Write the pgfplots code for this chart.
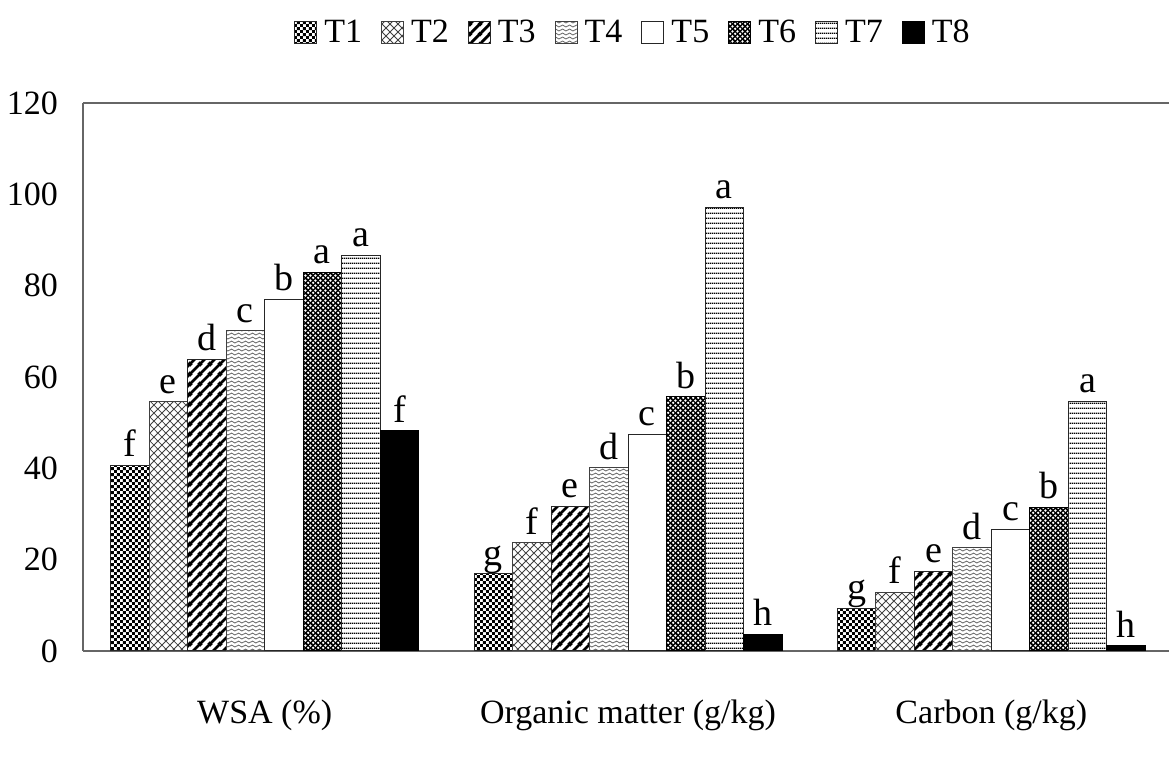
\documentclass[border=0pt]{standalone}
\usepackage{fontspec}
\setmainfont{Liberation Serif}
\usepackage{pgfplots}
\pgfplotsset{compat=1.18}
\usetikzlibrary{patterns,patterns.meta}

\tikzdeclarepattern{name=pchecker, type=uncolored, bottom left={(0pt,0pt)}, top right={(3.2pt,3.2pt)}, tile size={(3.2pt,3.2pt)},
  code={\fill (0pt,0pt) rectangle (1.6pt,1.6pt); \fill (1.6pt,1.6pt) rectangle (3.2pt,3.2pt);}}
\tikzdeclarepattern{name=pdiamond, type=uncolored, bottom left={(0pt,0pt)}, top right={(4.2pt,4.2pt)}, tile size={(4.2pt,4.2pt)},
  code={\draw[line width=0.45pt] (-0.5pt,-0.5pt)--(4.7pt,4.7pt) (-0.5pt,4.7pt)--(4.7pt,-0.5pt);}}
\tikzdeclarepattern{name=pdiag, type=uncolored, bottom left={(0pt,0pt)}, top right={(5pt,5pt)}, tile size={(5pt,5pt)},
  code={\draw[line width=1.5pt] (-1pt,-1pt)--(6pt,6pt) (-1pt,4pt)--(1pt,6pt) (4pt,-1pt)--(6pt,1pt);}}
\tikzdeclarepattern{name=pwave, type=uncolored, bottom left={(0pt,0pt)}, top right={(3.6pt,2.2pt)}, tile size={(3.6pt,2.2pt)},
  code={\draw[line width=0.45pt] (-0.2pt,1.1pt) -- (0pt,1.1pt) sin (0.9pt,1.65pt) cos (1.8pt,1.1pt) sin (2.7pt,0.55pt) cos (3.6pt,1.1pt) -- (3.8pt,1.1pt);}}
\tikzdeclarepattern{name=pdots, type=uncolored, bottom left={(0pt,0pt)}, top right={(2.4pt,2.4pt)}, tile size={(2.4pt,2.4pt)},
  code={\fill (0.6pt,0.6pt) circle (0.68pt); \fill (1.8pt,1.8pt) circle (0.68pt);}}
\tikzdeclarepattern{name=phlines, type=uncolored, bottom left={(0pt,0pt)}, top right={(1pt,2.5pt)}, tile size={(1pt,2.5pt)},
  code={\fill (0pt,0pt) rectangle (1pt,0.85pt);}}

\newcommand{\tkfont}{\fontsize{17}{20}\selectfont}
\newcommand{\lbfont}{\fontsize{19}{22}\selectfont}

\begin{document}
\begin{tikzpicture}
\useasboundingbox (0,0) rectangle (584.5pt,387pt);
\begin{axis}[
  at={(41.5pt,61.5pt)}, anchor=south west,
  scale only axis, width=545pt, height=274pt,
  xmin=-0.5, xmax=2.5, ymin=0, ymax=120,
  ybar=0pt, bar width=19.25pt,
  axis y line*=left,
  axis line style={black!60, line width=0.9pt},
  xtick={0,1,2},
  xticklabels={WSA (\%), Organic matter (g/kg), Carbon (g/kg)},
  ytick={0,20,...,120},
  major tick length=0pt,
  tick label style={font=\tkfont},
  x tick label style={yshift=-21pt},
  y tick label style={xshift=-9pt},
  /pgf/number format/assume math mode=true,
  nodes near coords, point meta=explicit symbolic,
  nodes near coords style={font=\lbfont, anchor=base, yshift=4.3pt, text=black},
  legend columns=8,
  legend style={at={(0.5055,1.128)}, anchor=center, draw=none, font=\tkfont,
    /tikz/every even column/.append style={column sep=7.5pt},
    /tikz/every odd column/.append style={column sep=1.5pt}},
  legend image code/.code={\draw[#1] (0pt,-5.5pt) rectangle (11pt,5.5pt);},
]
\addplot[draw=black!85, line width=0.5pt, fill=white, postaction={pattern=pchecker, pattern color=black}]
  coordinates {(0,40.7)[f] (1,16.9)[g] (2,9.3)[g]};
\addplot[draw=black!75, line width=0.5pt, fill=white, postaction={pattern=pdiamond, pattern color=black!75}]
  coordinates {(0,54.6)[e] (1,23.7)[f] (2,12.9)[f]};
\addplot[draw=black!85, line width=0.5pt, fill=white, postaction={pattern=pdiag, pattern color=black}]
  coordinates {(0,63.9)[d] (1,31.7)[e] (2,17.5)[e]};
\addplot[draw=black!75, line width=0.5pt, fill=white, postaction={pattern=pwave, pattern color=black!60}]
  coordinates {(0,70.1)[c] (1,40.1)[d] (2,22.6)[d]};
\addplot[draw=black!85, line width=0.5pt, fill=white]
  coordinates {(0,77.0)[b] (1,47.4)[c] (2,26.7)[c]};
\addplot[draw=black, line width=0.5pt, fill=black, postaction={pattern=pdots, pattern color=white}]
  coordinates {(0,82.9)[a] (1,55.7)[b] (2,31.5)[b]};
\addplot[draw=black!85, line width=0.5pt, fill=white, postaction={pattern=phlines, pattern color=black}]
  coordinates {(0,86.7)[a] (1,97.1)[a] (2,54.7)[a]};
\addplot[draw=black, line width=0.5pt, fill=black]
  coordinates {(0,48.2)[f] (1,3.7)[h] (2,1.1)[h]};
\legend{T1,T2,T3,T4,T5,T6,T7,T8}
\end{axis}
\end{tikzpicture}
\end{document}
